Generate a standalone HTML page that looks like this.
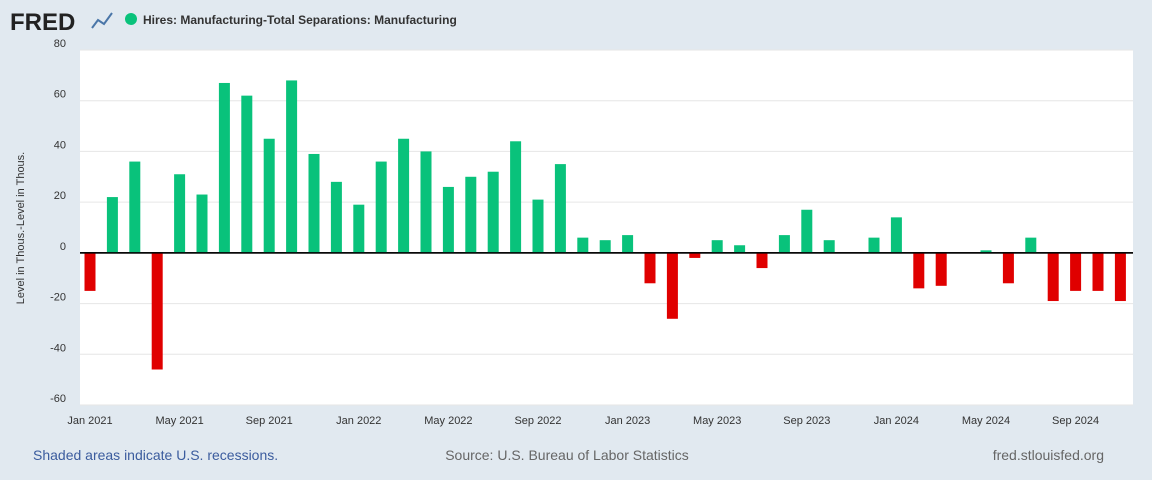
<!DOCTYPE html>
<html><head><meta charset="utf-8"><style>
body{margin:0;background:#e1e9f0;font-family:"Liberation Sans",sans-serif;}
#wrap{position:relative;width:1152px;height:480px;overflow:hidden;}
</style></head><body>
<div id="wrap">
<svg id="svg" width="1152" height="480" xmlns="http://www.w3.org/2000/svg">
<text x="10" y="30" font-size="24" font-weight="bold" fill="#222">FRED</text>
<polyline points="92,28 98,20 104,24 112,13" fill="none" stroke="#4a76a8" stroke-width="2"/>
<circle cx="131" cy="19" r="6" fill="#09c27b"/>
<text x="143" y="24" font-size="12" font-weight="bold" fill="#333">Hires: Manufacturing-Total Separations: Manufacturing</text>
<rect x="80" y="50" width="1053" height="355" fill="#fff"/>
<g id="grid"></g><g id="bars"></g><g id="xt"></g>
<text transform="translate(24,228) rotate(-90)" text-anchor="middle" font-size="11" fill="#333">Level in Thous.-Level in Thous.</text>
<text x="33" y="460" font-size="14" fill="#3b5c9e">Shaded areas indicate U.S. recessions.</text>
<text x="567" y="460" text-anchor="middle" font-size="14" fill="#666">Source: U.S. Bureau of Labor Statistics</text>
<text x="1104" y="460" text-anchor="end" font-size="14" fill="#666">fred.stlouisfed.org</text>
</svg></div>
<script>
const values=[-15,22,36,-46,31,23,67,62,45,68,39,28,19,36,45,40,26,30,32,44,21,35,6,5,7,-12,-26,-2,5,3,-6,7,17,5,0,6,14,-14,-13,0,1,-12,6,-19,-15,-15,-19];
const yTicks=[80,60,40,20,0,-20,-40,-60];
const xTickLabels=["Jan 2021","May 2021","Sep 2021","Jan 2022","May 2022","Sep 2022","Jan 2023","May 2023","Sep 2023","Jan 2024","May 2024","Sep 2024"];
const xTickIdx=[0,4,8,12,16,20,24,28,32,36,40,44];
const NS="http://www.w3.org/2000/svg";
const y=v=>50+(80-v)*355/140;
const x=i=>90+i*22.4;
const g=document.getElementById('grid'),b=document.getElementById('bars'),xt=document.getElementById('xt');
yTicks.forEach(t=>{
 const l=document.createElementNS(NS,'line');
 l.setAttribute('x1',80);l.setAttribute('x2',1133);l.setAttribute('y1',y(t));l.setAttribute('y2',y(t));
 l.setAttribute('stroke',t===0?'#000':'#e6e6e6');l.setAttribute('stroke-width',t===0?1.5:1);
 
 
 g.appendChild(l);
 const tx=document.createElementNS(NS,'text');
 tx.setAttribute('x',66);tx.setAttribute('y',y(t)-3);tx.setAttribute('text-anchor','end');tx.setAttribute('font-size','11');tx.setAttribute('fill','#333');
 tx.textContent=t;
 
 
 g.appendChild(tx);
});
values.forEach((v,i)=>{
 const r=document.createElementNS(NS,'rect');
 r.setAttribute('x',x(i)-5.5);r.setAttribute('width',11);
 r.setAttribute('y',Math.min(y(v),y(0)));r.setAttribute('height',Math.abs(y(v)-y(0)));
 r.setAttribute('fill',v>=0?'#09c27b':'#e00000');
 
 
 b.appendChild(r);
});
const zl=document.createElementNS(NS,'line');
zl.setAttribute('x1',80);zl.setAttribute('x2',1133);zl.setAttribute('y1',y(0));zl.setAttribute('y2',y(0));zl.setAttribute('stroke','#000');zl.setAttribute('stroke-width',1.5);


b.appendChild(zl);
xTickLabels.forEach((lab,k)=>{
 const tx=document.createElementNS(NS,'text');
 tx.setAttribute('x',x(xTickIdx[k]));tx.setAttribute('y',424);tx.setAttribute('text-anchor','middle');tx.setAttribute('font-size','11');tx.setAttribute('fill','#333');
 tx.textContent=lab;
 
 
 xt.appendChild(tx);
});
</script></body></html>
